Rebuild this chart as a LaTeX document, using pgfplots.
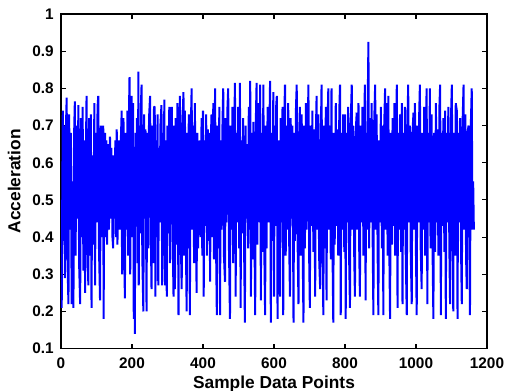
\documentclass[border=0pt]{standalone}
\usepackage{fontspec}
\setmainfont{Liberation Sans}
\usepackage{pgfplots}
\pgfplotsset{compat=1.18}
\definecolor{mblue}{RGB}{0,0,255}
\begin{document}
\begin{tikzpicture}
\useasboundingbox (-45.75pt,-31.5pt) rectangle (335.25pt,261.5pt);
\begin{axis}[
 scale only axis, width=319.5pt, height=251pt,
 at={(0,0)}, anchor=south west,
 xmin=0, xmax=1200, ymin=0.1, ymax=1,
 xtick={0,200,400,600,800,1000,1200},
 xticklabels={0,200,400,600,800,1000,1200},
 ytick={0.1,0.2,0.3,0.4,0.5,0.6,0.7,0.8,0.9,1},
 yticklabels={0.1,0.2,0.3,0.4,0.5,0.6,0.7,0.8,0.9,1},
 xtick pos=both, ytick pos=both,
 tick align=inside, major tick length=3.5pt,
 axis line style={line width=1pt},
 every tick/.style={black, line width=0.8pt},
 tick label style={font=\bfseries\fontsize{11.5}{13}\selectfont},
 xticklabel style={yshift=-3pt},
 yticklabel style={xshift=-2pt},
 label style={font=\bfseries\fontsize{13}{15}\selectfont},
 xlabel={Sample Data Points}, ylabel={Acceleration},
 xlabel style={yshift=1pt},
 ylabel style={yshift=2pt},
]
\addplot[mblue, line width=1.5pt, line join=bevel] coordinates {
(0,0.50)(2,0.21)(5,0.74)(7,0.39)(9,0.70)(11,0.29)(13,0.66)(16,0.775)(18,0.35)(21,0.22)(23,0.73)(25,0.42)(28,0.68)(30,0.22)(32,0.55)(35,0.21)(37,0.68)(39,0.765)(41,0.35)(44,0.70)(46,0.45)(49,0.755)(51,0.33)(54,0.22)(56,0.72)(59,0.40)(61,0.75)(63,0.31)(65,0.66)(68,0.25)(70,0.62)(72,0.78)(74,0.42)(77,0.27)(79,0.72)(82,0.35)(84,0.73)(86,0.21)(88,0.62)(91,0.38)(94,0.76)(96,0.27)(98,0.68)(100,0.44)(103,0.75)(105,0.78)(107,0.37)(110,0.23)(112,0.70)(114,0.40)(117,0.55)(119,0.70)(120,0.18)
(122,0.55)(124,0.68)(126,0.40)(128,0.66)(130,0.38)(132,0.65)(135,0.42)(138,0.67)(140,0.45)(142,0.64)(145,0.40)(147,0.37)(149,0.62)(151,0.45)(153,0.66)(155,0.40)(157,0.69)(159,0.38)(161,0.55)(163,0.66)(165,0.42)(168,0.64)(171,0.74)(172,0.30)(174,0.55)(176,0.72)(178,0.37)(180,0.235)(182,0.68)(185,0.42)(187,0.74)(189,0.35)(191,0.70)(193,0.83)(195,0.30)(197,0.66)(199,0.78)(201,0.40)(203,0.76)(205,0.18)(207,0.55)(208,0.14)(210,0.68)(212,0.44)(214,0.72)(216,0.33)(218,0.845)(219,0.27)(221,0.70)(223,0.41)(225,0.75)(227,0.81)(229,0.35)(232,0.20)(234,0.73)(236,0.45)(238,0.69)
(241,0.20)(243,0.68)(246,0.37)(248,0.72)(251,0.78)(253,0.42)(255,0.26)(257,0.70)(260,0.33)(262,0.75)(264,0.75)(266,0.24)(268,0.66)(270,0.40)(272,0.73)(274,0.27)(276,0.64)(278,0.44)(280,0.70)(283,0.755)(285,0.27)(287,0.68)(289,0.35)(291,0.77)(293,0.27)(295,0.66)(298,0.24)(300,0.70)(302,0.41)(305,0.75)(307,0.33)(309,0.68)(312,0.75)(314,0.44)(317,0.24)(319,0.70)(321,0.26)(323,0.72)(326,0.38)(328,0.76)(331,0.19)(333,0.66)(335,0.78)(337,0.42)(340,0.26)(342,0.70)(345,0.79)(347,0.35)(349,0.74)(351,0.45)(354,0.20)(356,0.68)(358,0.37)
(360,0.73)(363,0.19)(365,0.66)(368,0.80)(370,0.42)(372,0.70)(375,0.33)(377,0.76)(380,0.45)(382,0.25)(384,0.68)(386,0.37)(389,0.64)(391,0.66)(393,0.40)(396,0.72)(398,0.35)(400,0.74)(402,0.24)(404,0.66)(406,0.43)(409,0.73)(411,0.35)(414,0.69)(416,0.39)(418,0.68)(420,0.28)(422,0.66)(424,0.73)(426,0.40)(429,0.76)(431,0.34)(434,0.80)(436,0.44)(439,0.19)(441,0.70)(443,0.37)(446,0.75)(448,0.19)(450,0.66)(452,0.42)(455,0.71)(457,0.80)(459,0.35)(462,0.28)(464,0.72)(466,0.44)(469,0.75)(471,0.80)(473,0.38)(476,0.18)(478,0.70)
(480,0.42)(483,0.75)(485,0.33)(488,0.68)(490,0.815)(492,0.24)(494,0.68)(497,0.44)(499,0.75)(502,0.37)(504,0.815)(506,0.21)(508,0.66)(511,0.41)(513,0.72)(516,0.35)(518,0.17)(520,0.70)(522,0.45)(525,0.65)(527,0.37)(529,0.75)(531,0.42)(533,0.82)(535,0.24)(537,0.68)(540,0.34)(542,0.71)(545,0.40)(547,0.19)(549,0.72)(551,0.815)(553,0.38)(556,0.76)(558,0.44)(561,0.81)(563,0.23)(565,0.68)(568,0.36)(570,0.81)(572,0.42)(575,0.19)(577,0.70)(579,0.37)(582,0.75)(584,0.44)(587,0.69)(589,0.82)(591,0.17)(593,0.68)(596,0.39)(598,0.79)(600,0.24)
(602,0.70)(604,0.43)(606,0.75)(608,0.78)(610,0.18)(612,0.66)(615,0.37)(617,0.24)(619,0.72)(621,0.44)(624,0.75)(626,0.19)(628,0.68)(631,0.81)(633,0.35)(636,0.70)(638,0.42)(640,0.76)(643,0.37)(645,0.24)(647,0.72)(650,0.45)(652,0.70)(655,0.17)(657,0.68)(659,0.39)(662,0.75)(664,0.81)(666,0.42)(669,0.22)(671,0.68)(673,0.75)(675,0.35)(678,0.73)(680,0.44)(683,0.17)(685,0.70)(687,0.37)(690,0.76)(692,0.42)(695,0.68)(697,0.81)(699,0.35)(701,0.21)(703,0.70)(706,0.43)(708,0.74)(711,0.36)(713,0.69)(716,0.24)(718,0.68)(720,0.78)
(722,0.42)(725,0.73)(727,0.35)(730,0.26)(732,0.68)(734,0.81)(736,0.44)(739,0.19)(741,0.70)(743,0.37)(746,0.75)(748,0.23)(750,0.66)(753,0.80)(755,0.42)(757,0.70)(760,0.34)(762,0.80)(764,0.44)(767,0.17)(769,0.68)(771,0.38)(774,0.76)(776,0.43)(779,0.69)(781,0.35)(784,0.74)(786,0.81)(788,0.19)(790,0.68)(793,0.42)(795,0.73)(798,0.36)(800,0.73)(802,0.18)(804,0.68)(807,0.44)(809,0.75)(811,0.38)(814,0.21)(816,0.70)(819,0.81)(821,0.42)(823,0.70)(826,0.35)(828,0.24)(830,0.68)(833,0.735)(835,0.42)(838,0.76)
(840,0.37)(842,0.24)(844,0.70)(847,0.44)(849,0.75)(852,0.35)(854,0.69)(856,0.81)(858,0.23)(860,0.68)(862,0.42)(864,0.76)(866,0.925)(868,0.37)(870,0.72)(873,0.44)(875,0.76)(878,0.39)(880,0.19)(882,0.70)(885,0.81)(887,0.42)(889,0.73)(892,0.35)(894,0.19)(896,0.66)(899,0.44)(901,0.75)(904,0.37)(906,0.70)(908,0.19)(910,0.68)(913,0.80)(915,0.42)(918,0.76)(920,0.35)(922,0.78)(924,0.44)(927,0.18)(929,0.68)(932,0.38)(934,0.72)(937,0.43)(939,0.76)(941,0.35)(944,0.70)(946,0.81)(948,0.21)(950,0.68)(953,0.42)(955,0.73)(958,0.36)(960,0.76)(962,0.22)
(964,0.68)(967,0.42)(969,0.75)(971,0.36)(974,0.19)(976,0.70)(978,0.81)(980,0.44)(983,0.70)(985,0.37)(988,0.22)(990,0.68)(993,0.735)(995,0.42)(997,0.76)(1000,0.35)(1002,0.19)(1004,0.70)(1007,0.44)(1009,0.73)(1011,0.81)(1013,0.38)(1016,0.26)(1018,0.68)(1021,0.42)(1023,0.75)(1026,0.35)(1028,0.70)(1030,0.80)(1032,0.22)(1034,0.68)(1037,0.44)(1039,0.80)(1041,0.37)(1044,0.73)(1046,0.42)(1049,0.18)(1051,0.68)(1054,0.36)(1056,0.76)(1059,0.44)(1061,0.69)(1063,0.35)(1066,0.75)(1068,0.81)(1070,0.19)(1072,0.68)(1075,0.43)(1077,0.72)(1080,0.36)(1082,0.74)(1084,0.18)(1086,0.68)(1089,0.44)(1091,0.75)(1094,0.37)(1096,0.22)(1098,0.70)(1101,0.81)(1103,0.42)(1105,0.20)(1107,0.68)(1110,0.35)(1112,0.76)(1115,0.74)(1117,0.18)(1119,0.68)(1122,0.44)(1124,0.72)(1127,0.36)(1129,0.22)(1131,0.70)(1134,0.81)(1136,0.42)(1139,0.73)(1141,0.35)(1143,0.26)(1145,0.68)(1148,0.70)(1150,0.42)(1152,0.19)(1154,0.68)(1157,0.80)(1159,0.42)(1161,0.55)(1163,0.42)
};
\end{axis}
\end{tikzpicture}
\end{document}
